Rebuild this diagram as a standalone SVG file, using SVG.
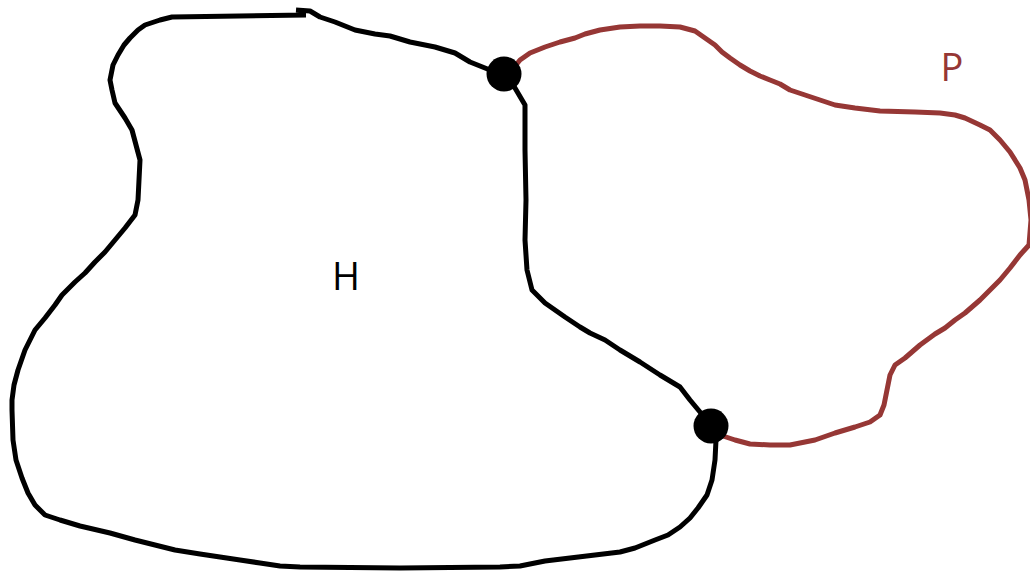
<svg xmlns="http://www.w3.org/2000/svg" width="1030" height="571" viewBox="0 0 1030 571">
<style>
.h{fill:none;stroke:#000;stroke-width:5;stroke-linejoin:round;stroke-linecap:butt}
.p{fill:none;stroke:#963735;stroke-width:5;stroke-linejoin:round}
.dot{fill:#000}
.lbl{font-family:"Open Sans","Noto Sans",sans-serif;font-size:38px}
</style>
<rect width="1030" height="571" fill="#fff"/>
<g id="connectors">
<polyline id="H-outline" class="h" points="296,10 310,11 320,17 335,22 355,30 375,34 390,36 410,42 435,47 455,53 470,62 490,70 503,74 515,88 525,105 525,150 526,200 525,240 527,270 532,290 545,303 565,317 580,327 590,333 605,340 620,350 640,362 660,375 680,387 690,400 700,412 711,426 716,440 715,460 712,480 707,495 698,508 690,518 680,527 668,535 655,540 635,548 620,552 595,555 570,558 545,561 520,566 500,567 400,568 300,567 280,566 260,563 240,560 220,557 200,554 175,550 155,545 135,540 110,533 80,526 60,520 45,515 35,505 28,493 22,478 16,460 13,440 12,410 12,400 14,385 18,370 25,350 35,330 45,318 55,305 62,295 75,282 85,273 95,262 105,252 115,240 125,228 135,215 138,200 140,160 136,145 132,130 125,118 115,103 112,90 110,80 113,65 118,55 124,45 130,38 138,30 145,25 160,20 172,17 306,15"/>
<polyline id="P-path" class="p" points="512,70 520,60 530,53 545,47 560,42 575,38 585,34 600,30 620,27 640,26 660,26 680,27 695,31 705,38 715,45 722,52 730,58 740,65 750,71 760,76 770,80 780,84 790,90 805,95 820,100 835,105 855,108 880,111 915,112 940,113 955,115 965,118 980,125 990,130 1000,140 1010,152 1020,168 1025,180 1029,200 1031,220 1029,245 1020,255 1010,268 1000,280 990,290 980,300 965,313 955,320 945,328 935,334 920,345 905,358 895,365 890,375 887,390 884,405 880,415 870,422 855,427 835,433 815,440 790,445 770,445 750,444 735,440 720,435"/>
</g>
<g id="junction1"><circle class="dot" cx="504" cy="74" r="17.5"/></g>
<g id="junction2"><circle class="dot" cx="711" cy="426" r="17.5"/></g>
<g id="label-H"><text class="lbl" x="346" y="290" text-anchor="middle" fill="#000">H</text></g>
<g id="label-P"><text class="lbl" x="952" y="81" text-anchor="middle" fill="#963735">P</text></g>
</svg>
